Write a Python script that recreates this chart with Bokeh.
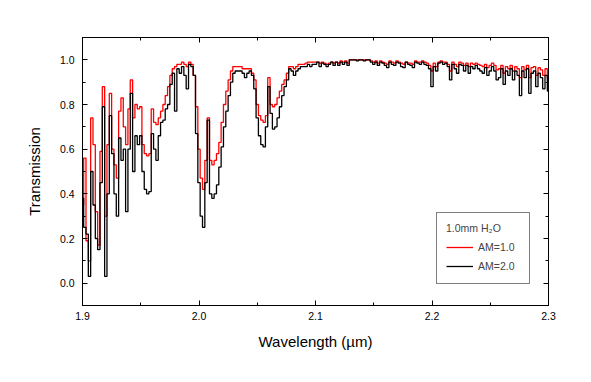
import numpy as np
from bokeh.plotting import figure
from bokeh.models import Range1d, FixedTicker, LinearAxis, PrintfTickFormatter, Legend, LegendItem
from bokeh.embed import file_html
from bokeh.resources import INLINE

# transmission sampled every 0.002 um from 1.900 to 2.300
wl_start = 1.9
wl_step = 0.002

am2 = [  # AM=2.0 (black)
    0.38, 0.25, 0.22, 0.03, 0.50, 0.35, 0.20, 0.15, 0.45, 0.79, 0.03, 0.40, 0.75, 0.58, 0.40, 0.30, 0.65, 0.55, 0.60, 0.32, 0.60, 0.85, 0.50, 0.66, 0.62,
    0.66, 0.50, 0.42, 0.40, 0.41, 0.67, 0.60, 0.55, 0.66, 0.72, 0.73, 0.78, 0.80, 0.89, 0.94, 0.77, 0.96, 0.94, 0.97, 0.93, 0.87, 0.98, 0.97, 0.93, 0.67,
    0.45, 0.30, 0.25, 0.45, 0.73, 0.40, 0.38, 0.40, 0.44, 0.52, 0.61, 0.70, 0.77, 0.84, 0.90, 0.94, 0.95, 0.95, 0.95, 0.94, 0.92, 0.94, 0.95, 0.93, 0.87,
    0.74, 0.66, 0.62, 0.61, 0.70, 0.88, 0.76, 0.69, 0.70, 0.74, 0.79, 0.84, 0.88, 0.91, 0.96, 0.95, 0.93, 0.95, 0.96, 0.97, 0.97, 0.97, 0.98, 0.97, 0.98,
    0.98, 0.99, 0.97, 0.985, 0.98, 0.97, 0.98, 0.99, 0.975, 0.99, 0.975, 0.99, 0.98, 0.99, 0.975, 1.0, 1.0, 1.0, 0.995, 1.0, 1.0, 0.995, 1.0, 1.0, 0.99,
    0.98, 0.99, 0.975, 0.99, 0.985, 0.975, 0.965, 0.99, 0.98, 0.975, 0.99, 0.985, 0.97, 0.965, 0.99, 0.98, 0.975, 0.965, 0.99, 0.985, 0.98, 0.99, 0.98, 0.975, 0.96,
    0.88, 0.97, 0.95, 0.985, 0.99, 0.98, 0.985, 0.97, 0.91, 0.98, 0.96, 0.94, 0.98, 0.975, 0.95, 0.975, 0.94, 0.97, 0.96, 0.975, 0.96, 0.95, 0.94, 0.965, 0.93,
    0.95, 0.97, 0.95, 0.91, 0.92, 0.96, 0.89, 0.95, 0.93, 0.96, 0.91, 0.95, 0.93, 0.84, 0.95, 0.92, 0.96, 0.85, 0.94, 0.95, 0.88, 0.94, 0.92, 0.87, 0.93, 0.86,
]

am1 = [  # AM=1.0 (red)
    0.35, 0.56, 0.19, 0.10, 0.74, 0.62, 0.32, 0.17, 0.59, 0.88, 0.30, 0.62, 0.85, 0.60, 0.53, 0.47, 0.77, 0.83, 0.70, 0.62, 0.78, 0.91, 0.74, 0.80, 0.78,
    0.79, 0.62, 0.58, 0.57, 0.58, 0.78, 0.72, 0.71, 0.74, 0.77, 0.80, 0.84, 0.88, 0.93, 0.96, 0.97, 0.98, 0.98, 0.99, 0.98, 0.97, 0.99, 0.98, 0.93, 0.79,
    0.60, 0.47, 0.42, 0.55, 0.74, 0.55, 0.53, 0.55, 0.58, 0.63, 0.72, 0.80, 0.86, 0.91, 0.95, 0.97, 0.97, 0.97, 0.97, 0.96, 0.96, 0.96, 0.96, 0.94, 0.91,
    0.80, 0.75, 0.73, 0.72, 0.75, 0.92, 0.80, 0.79, 0.80, 0.83, 0.86, 0.89, 0.91, 0.94, 0.97, 0.97, 0.96, 0.97, 0.98, 0.98, 0.98, 0.985, 0.99, 0.99, 0.99,
    0.99, 0.99, 0.985, 0.99, 0.985, 0.98, 0.985, 0.99, 0.985, 0.99, 0.985, 0.995, 0.99, 0.995, 0.985, 1.0, 1.0, 1.0, 1.0, 1.0, 1.0, 1.0, 1.0, 1.0, 0.995,
    0.99, 0.995, 0.985, 0.995, 0.99, 0.985, 0.98, 0.995, 0.99, 0.985, 0.995, 0.99, 0.985, 0.98, 0.99, 0.985, 0.985, 0.98, 0.995, 0.99, 0.99, 0.995, 0.99, 0.985, 0.975,
    0.95, 0.985, 0.97, 0.99, 0.995, 0.99, 0.99, 0.98, 0.95, 0.99, 0.98, 0.97, 0.99, 0.985, 0.975, 0.985, 0.97, 0.985, 0.98, 0.985, 0.98, 0.975, 0.97, 0.98, 0.965,
    0.975, 0.985, 0.975, 0.955, 0.96, 0.975, 0.94, 0.97, 0.96, 0.975, 0.95, 0.97, 0.96, 0.92, 0.97, 0.955, 0.975, 0.92, 0.965, 0.97, 0.93, 0.965, 0.955, 0.93, 0.96, 0.92,
]

x_ticks = [1.9, 2.0, 2.1, 2.2, 2.3]
x_minor = [1.95, 2.05, 2.15, 2.25]
y_ticks = [0.0, 0.2, 0.4, 0.6, 0.8, 1.0]
y_minor = [-0.1, 0.1, 0.3, 0.5, 0.7, 0.9, 1.1]

n = min(len(am1), len(am2))
wavelength = np.round(wl_start + wl_step * np.arange(n), 4)

FONT = "Liberation Sans"

p = figure(width=583, height=366, output_backend="svg", toolbar_location=None,
           x_range=Range1d(1.9, 2.3), y_range=Range1d(-0.1, 1.1),
           min_border_left=82, min_border_right=35, min_border_top=37, min_border_bottom=61,
           x_axis_label="Wavelength (\u00b5m)", y_axis_label="Transmission")
p.xgrid.visible = False
p.ygrid.visible = False
p.outline_line_color = "black"
p.background_fill_color = "white"
p.border_fill_color = "white"

r1 = p.step(wavelength, am1[:n], mode="center", line_color="#ff0000", line_width=1.3)
r2 = p.step(wavelength, am2[:n], mode="center", line_color="black", line_width=1.3)


def style_axis(ax, ticks, minor, show_labels=True):
    ax.ticker = FixedTicker(ticks=ticks, minor_ticks=minor)
    ax.formatter = PrintfTickFormatter(format="%.1f")
    ax.axis_line_color = "black"
    ax.axis_line_width = 1
    ax.major_tick_in = 5
    ax.major_tick_out = 0
    ax.minor_tick_in = 3
    ax.minor_tick_out = 0
    ax.major_tick_line_color = "black"
    ax.minor_tick_line_color = "black"
    ax.major_label_text_font = FONT
    ax.major_label_text_color = "black" if show_labels else None
    ax.major_label_text_font_size = "10.5px"
    ax.axis_label_text_font = FONT
    ax.axis_label_text_font_size = "15px"
    ax.axis_label_text_font_style = "normal"
    ax.axis_label_text_color = "black"


style_axis(p.xaxis[0], x_ticks, x_minor)
style_axis(p.yaxis[0], y_ticks, y_minor)
p.xaxis[0].major_label_standoff = 6
p.xaxis[0].axis_label_standoff = 10
p.yaxis[0].major_label_standoff = 8
p.yaxis[0].axis_label_standoff = 14

top = LinearAxis()
style_axis(top, x_ticks, x_minor, show_labels=False)
p.add_layout(top, "above")
right = LinearAxis()
style_axis(right, y_ticks, y_minor, show_labels=False)
p.add_layout(right, "right")

legend = Legend(items=[LegendItem(label="AM=1.0", renderers=[r1]),
                       LegendItem(label="AM=2.0", renderers=[r2])],
                location=(354, 21), title="1.0mm H\u2082O")
legend.title_text_font = FONT
legend.title_text_font_size = "10.5px"
legend.title_text_font_style = "normal"
legend.title_standoff = 5
legend.label_text_font = FONT
legend.label_text_font_size = "10.5px"
legend.border_line_color = "black"
legend.border_line_width = 1
legend.background_fill_alpha = 1
legend.padding = 9
legend.spacing = 3
legend.glyph_width = 27
legend.glyph_height = 16
legend.label_height = 16
legend.label_width = 42
legend.label_standoff = 5
legend.margin = 0
p.add_layout(legend, "center")

open("out.html", "w").write(file_html(p, INLINE))
